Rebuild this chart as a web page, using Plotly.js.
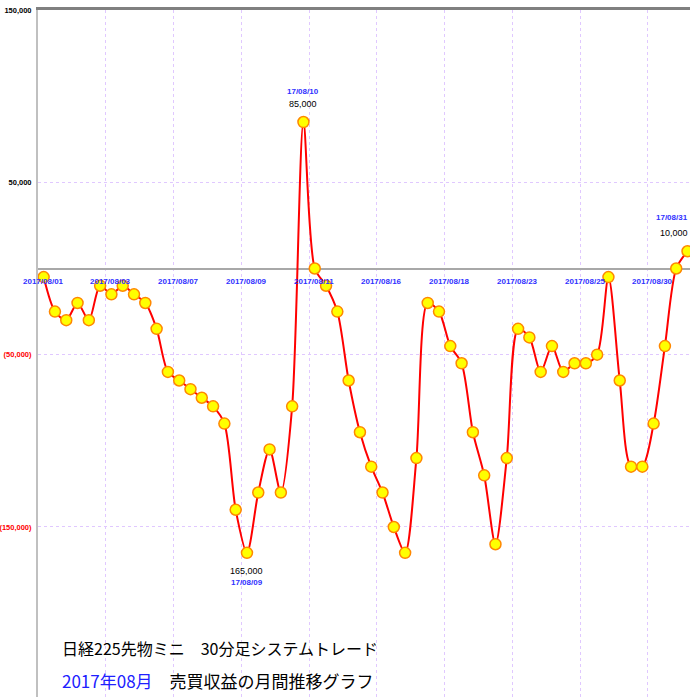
<!DOCTYPE html>
<html>
<head>
<meta charset="utf-8">
<script src="https://cdn.plot.ly/plotly-3.0.1.min.js"></script>
<style>html,body{margin:0;padding:0;background:#fff;overflow:hidden;}#chart{width:690px;height:697px;}</style>
</head>
<body>
<div id="chart"></div>
<script>
// Cumulative profit per trade (yen), August 2017
const profit = [
  -5000, -25000, -30000, -20000, -30000, -10000, -15000, -10000, -15000, -20000,
  -35000, -60000, -65000, -70000, -75000, -80000, -90000, -140000, -165000, -130000,
  -105000, -130000, -80000, 85000, 0, -10000, -25000, -65000, -95000, -115000,
  -130000, -150000, -165000, -110000, -20000, -25000, -45000, -55000, -95000, -120000,
  -160000, -110000, -35000, -40000, -60000, -45000, -60000, -55000, -55000, -50000,
  -5000, -65000, -115000, -115000, -90000, -45000, 0, 10000
];
// Date labels on the vertical grid lines (trade index where each day starts)
const dateTickPos = [-0.5, 5.5, 11.5, 17.5, 23.5, 29.5, 35.5, 41.5, 47.5, 53.5];
const dateTickText = ["2017/08/01","2017/08/03","2017/08/07","2017/08/09","2017/08/11",
                      "2017/08/16","2017/08/18","2017/08/23","2017/08/25","2017/08/30"];
// Y-axis ticks
const yTickVals = [150000, 50000, -50000, -150000, -250000];
// Highlighted points: index and date label
const highlightIdx = [23, 18, 57];
const highlightDate = ["17/08/10", "17/08/09", "17/08/31"];
const titleLine1 = "日経225先物ミニ　30分足システムトレード";
const titleMonth = "2017年08月";
const titleLine2 = "　売買収益の月間推移グラフ";

const idx = profit.map((_, i) => i);
const fmt = v => Math.abs(v).toLocaleString('en-US');
const yTickText = yTickVals.map(v => v < 0 ? `<span style="color:#ff0000">(${fmt(v)})</span>` : fmt(v));

const narrow = "Liberation Sans, Arial, sans-serif";

const annotations = [];
dateTickPos.forEach((p, i) => {
  annotations.push({
    x: p, y: 0, xref: 'x', yref: 'y', text: '<b>' + dateTickText[i] + '</b>',
    showarrow: false, xanchor: 'center', yanchor: 'middle', xshift: 5, yshift: -13,
    font: {family: narrow, size: 8, color: '#3030ff'}
  });
});
highlightIdx.forEach((k, i) => {
  const v = profit[k];
  const below = (k === highlightIdx[1]);
  const last = (k === profit.length - 1);
  const sgn = below ? -1 : 1;
  const xa = last ? 'right' : 'center';
  const xs = last ? 2 : 0;
  annotations.push({
    x: k, y: v, xref: 'x', yref: 'y', text: fmt(v), showarrow: false,
    xanchor: xa, xshift: xs, yanchor: 'middle', yshift: 18 * sgn,
    font: {family: narrow, size: 9, color: '#000000'}
  });
  annotations.push({
    x: k, y: v, xref: 'x', yref: 'y', text: '<b>' + highlightDate[i] + '</b>', showarrow: false,
    xanchor: xa, xshift: xs, yanchor: 'middle', yshift: (below ? 30 : (last ? 34 : 31)) * sgn,
    font: {family: narrow, size: 8, color: '#3030ff'}
  });
});
annotations.push({
  xref: 'paper', yref: 'paper', x: 0.0337, y: 0.0713, xanchor: 'left', yanchor: 'middle',
  text: titleLine1, showarrow: false,
  font: {family: "Noto Sans CJK JP, sans-serif", size: 16, color: '#000000'}
});
annotations.push({
  xref: 'paper', yref: 'paper', x: 0.0337, y: 0.0247, xanchor: 'left', yanchor: 'middle',
  text: `<span style="color:#2020ff">${titleMonth}</span>${titleLine2}`, showarrow: false,
  font: {family: "Noto Sans CJK JP, sans-serif", size: 17, color: '#000000'}
});

const trace = {
  x: idx, y: profit, type: 'scatter', mode: 'lines+markers',
  line: {color: '#ff0000', width: 2, shape: 'spline', smoothing: 0.8},
  marker: {color: '#ffff00', size: 11, line: {color: '#ff8800', width: 1.5}},
  hoverinfo: 'skip'
};

const layout = {
  width: 690, height: 697,
  margin: {l: 38, r: 0, t: 10, b: 0, pad: 0},
  paper_bgcolor: '#ffffff', plot_bgcolor: '#ffffff',
  showlegend: false,
  xaxis: {
    range: [-0.5, 57.22], side: 'top',
    tickmode: 'array', tickvals: dateTickPos, showticklabels: false, ticks: '',
    showgrid: true, gridcolor: '#e0c8ff', griddash: 'dot', gridwidth: 1,
    showline: true, linecolor: '#808080', linewidth: 3, zeroline: false
  },
  yaxis: {
    range: [-248650, 150000],
    tickmode: 'array', tickvals: yTickVals, ticktext: yTickText, ticks: '',
    ticklabelstandoff: 3,
    tickfont: {family: narrow, size: 7.5, color: '#000000', weight: 'bold'},
    showgrid: true, gridcolor: '#e0c8ff', griddash: 'dot', gridwidth: 1,
    zeroline: true, zerolinecolor: '#a8a8a8', zerolinewidth: 2,
    showline: true, linecolor: '#c0c0c0', linewidth: 2
  },
  annotations: annotations
};

Plotly.newPlot('chart', [trace], layout, {staticPlot: true, displayModeBar: false});
</script>
</body>
</html>
